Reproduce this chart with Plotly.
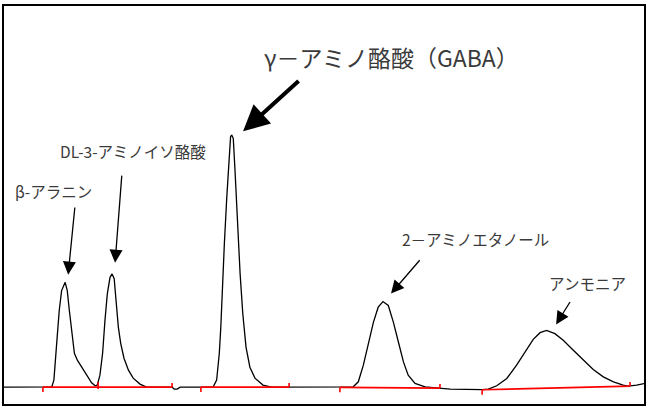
import plotly.graph_objects as go

# ---- chromatogram signal (time in min, signal in arbitrary units) ----
time_min = [0.06, 1.70, 1.77, 1.83, 1.89, 1.95, 2.03, 2.15, 2.22, 2.29, 2.37, 2.46, 2.56, 2.71, 2.88,
            3.04, 3.16, 3.23, 3.32, 3.41, 3.49, 3.57, 3.66, 3.73, 3.80, 3.86, 3.94, 4.02, 4.13, 4.28,
            4.44, 4.67, 4.87, 5.34, 5.75, 5.82, 5.92, 6.02, 7.13, 7.25, 7.34, 7.39, 7.44, 7.51, 7.59,
            7.66, 7.72, 7.76, 7.81, 7.87, 7.95, 8.04, 8.13, 8.24, 8.37, 8.54, 8.81, 9.10, 11.85, 12.02,
            12.19, 12.36, 12.53, 12.69, 12.85, 13.03, 13.20, 13.37, 13.54, 13.70, 13.93, 14.27, 14.77,
            15.11, 16.19, 16.40, 16.68, 17.02, 17.35, 17.63, 17.91, 18.14, 18.36, 18.64, 18.92, 19.26,
            19.60, 19.93, 20.27, 20.61, 20.94, 21.11, 21.39, 21.67]
signal = [0, 0.3, 7, 27, 54, 77, 97, 105.3, 97, 77, 54, 34, 27, 20.3, 12,
          4.3, 1.3, 2, 12, 34, 67, 94, 110.3, 113.7, 109, 87, 60.3, 44, 29, 17,
          9, 3, 0.3, 0, 0, -2, -2, 0, 0, 7, 34, 60, 100, 144, 190,
          227, 252, 253, 250, 217, 167, 114, 74, 40, 20, 9, 2, 0, 0.3, 5.3,
          22, 45.3, 65.3, 80.3, 86, 82, 65.3, 45.3, 25.3, 12, 3.7, 0.3, -1.3,
          -2, -2.5, -2, 1.3, 8.7, 22, 35.3, 48, 54.7, 57, 53.7, 47, 37,
          27, 17.7, 10.3, 5.3, 2, 1, 2, 3.7]

# ---- integration baselines (red) ----
bl_start_t = [1.40, 3.26, 6.72, 11.40, 16.19]
bl_end_t = [3.26, 5.75, 9.69, 14.77, 21.17]
bl_start_v = [0, 0, 0, -0.3, -2.7]
bl_end_v = [0, 0, 0, -1.0, 1.0]
mark_t = [1.40, 3.26, 5.75, 6.72, 9.69, 11.40, 14.77, 16.19, 21.17]
mark_lo = [-5, -2, 0, -5, 0, -5.3, -1, -7.7, 1]
mark_hi = [0, 5, 4, 0, 4, -0.3, 3, -2.7, 5]

# ---- peak labels ----
labels = ["β-アラニン", "DL-3-アミノイソ酪酸", "γ－アミノ酪酸（GABA）", "2－アミノエタノール", "アンモニア"]
label_t = [1.77, 4.43, 13.15, 15.95, 19.75]
label_v = [197, 237, 332, 149, 105]
label_size = [15.5, 15.5, 23, 15.5, 15.5]
arrow_tail_t = [2.48, 4.06, 10.06, 14.13, 19.18]
arrow_tail_v = [182, 214, 309, 129, 87]
arrow_head_t = [2.25, 3.83, 8.14, 13.12, 18.68]
arrow_head_v = [113, 125, 257, 94, 63]
arrow_w = [1.3, 1.3, 4, 1.3, 1.3]
arrow_s = [2.0, 2.0, 1.3, 2.0, 2.0]

xs, ys = [], []
for a, b, va, vb in zip(bl_start_t, bl_end_t, bl_start_v, bl_end_v):
    xs += [a, b, None]
    ys += [va, vb, None]
for t, lo, hi in zip(mark_t, mark_lo, mark_hi):
    xs += [t, t, None]
    ys += [lo, hi, None]

fig = go.Figure()
fig.add_trace(go.Scatter(x=time_min, y=signal, mode="lines",
                         line=dict(color="black", width=1.3), hoverinfo="skip"))
fig.add_trace(go.Scatter(x=xs, y=ys, mode="lines",
                         line=dict(color="#ff0000", width=1.6), hoverinfo="skip"))

font_family = "Noto Sans CJK JP, Noto Sans, sans-serif"
for i in range(len(labels)):
    fig.add_annotation(x=label_t[i], y=label_v[i], text=labels[i], showarrow=False,
                       xref="x", yref="y", xanchor="center", yanchor="middle",
                       font=dict(family=font_family, size=label_size[i], color="#3a3a3a"))
    fig.add_annotation(x=arrow_head_t[i], y=arrow_head_v[i], ax=arrow_tail_t[i], ay=arrow_tail_v[i],
                       xref="x", yref="y", axref="x", ayref="y", text="", showarrow=True,
                       arrowhead=2, arrowsize=arrow_s[i], arrowwidth=arrow_w[i],
                       arrowcolor="black", standoff=0)

fig.update_layout(
    width=650, height=409,
    margin=dict(l=4, r=6, t=4, b=5),
    paper_bgcolor="white", plot_bgcolor="white",
    showlegend=False,
    xaxis=dict(range=[0.09, 21.64], showgrid=False, zeroline=False,
               showline=True, linecolor="black", linewidth=2, mirror=True,
               ticks="inside", tickcolor="white", ticklen=3, tickwidth=2,
               dtick=1, tick0=0, showticklabels=False),
    yaxis=dict(range=[-17, 383], showgrid=False, zeroline=False,
               showline=True, linecolor="black", linewidth=2, mirror=True,
               ticks="", showticklabels=False),
)

fig.write_html("out.html", config={"displayModeBar": False},
               post_script="document.body.style.margin='0px';document.body.style.overflow='hidden';")
